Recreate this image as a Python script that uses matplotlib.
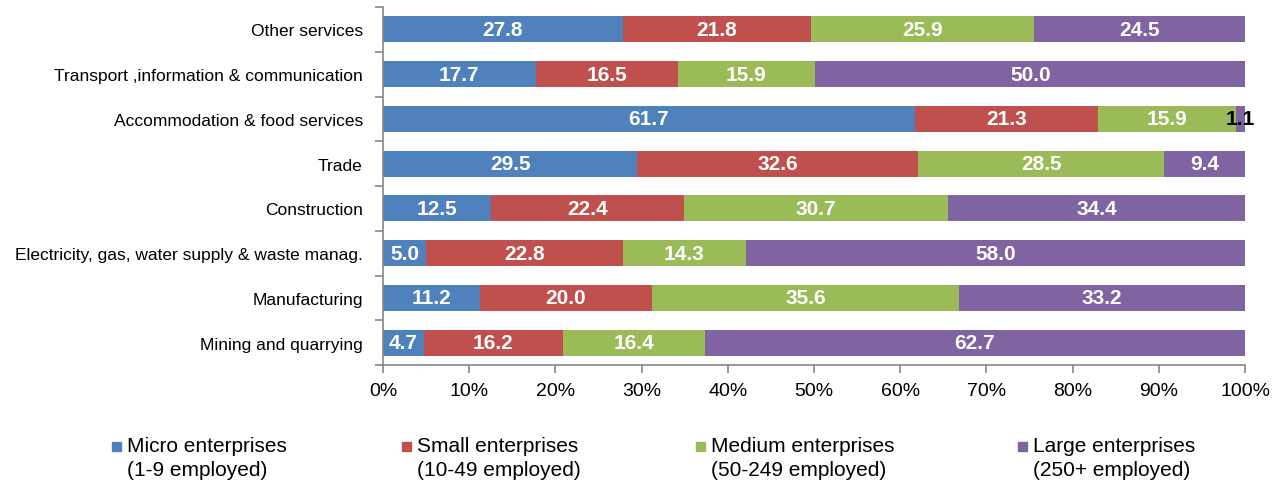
import matplotlib.pyplot as plt
from matplotlib.patches import Rectangle
import numpy as np

plt.rcParams["font.family"] = ["Liberation Sans", "DejaVu Sans"]

# data, bottom -> top
sectors = [
    "Mining and quarrying",
    "Manufacturing",
    "Electricity, gas, water supply & waste manag.",
    "Construction",
    "Trade",
    "Accommodation & food services",
    "Transport ,information & communication",
    "Other services",
]
micro = [4.7, 11.2, 5.0, 12.5, 29.5, 61.7, 17.7, 27.8]
small = [16.2, 20.0, 22.8, 22.4, 32.6, 21.3, 16.5, 21.8]
medium = [16.4, 35.6, 14.3, 30.7, 28.5, 15.9, 15.9, 25.9]
large = [62.7, 33.2, 58.0, 34.4, 9.4, 1.1, 50.0, 24.5]

series_names = [
    "Micro enterprises\n(1-9 employed)",
    "Small enterprises\n(10-49 employed)",
    "Medium enterprises\n(50-249 employed)",
    "Large enterprises\n(250+ employed)",
]
colors = ["#4F81BD", "#C0504D", "#9BBB59", "#8064A2"]

W, H = 1284, 485
fig = plt.figure(figsize=(W / 100, H / 100), dpi=100)
ax = fig.add_axes([383 / W, 1 - 366 / H, (1245 - 383) / W, 358 / H])

y = np.arange(len(sectors))
left = np.zeros(len(sectors))
for vals, col in zip([micro, small, medium, large], colors):
    vals = np.array(vals)
    ax.barh(y, vals, left=left, height=0.58, color=col, edgecolor="none")
    for yi, (l, v) in enumerate(zip(left, vals)):
        txt_col = "black" if v < 3 else "white"
        ax.text(l + v / 2, yi, f"{v:.1f}", ha="center", va="center",
                color=txt_col, fontsize=15, fontweight="bold")
    left += vals

ax.set_xlim(0, 100)
ax.set_ylim(-0.5, len(sectors) - 0.5)
ax.set_xticks(np.arange(0, 101, 10))
ax.set_xticklabels([f"{v}%" for v in range(0, 101, 10)], fontsize=14)
ax.set_yticks(y)
ax.set_yticklabels(sectors, fontsize=12.5)
ax.set_yticks(np.arange(-0.5, len(sectors), 1), minor=True)
ax.tick_params(axis="y", which="major", length=0, pad=14.5)
ax.tick_params(axis="y", which="minor", length=6, color="#868686", width=1.2)
ax.tick_params(axis="x", length=6, color="#868686", width=1.2, pad=6)
for s in ["top", "right"]:
    ax.spines[s].set_visible(False)
for s in ["left", "bottom"]:
    ax.spines[s].set_color("#868686")
    ax.spines[s].set_linewidth(1.2)

# legend drawn by hand: square next to first line of two-line label
leg_x = [112, 402, 696, 1018]
for xp, name, col in zip(leg_x, series_names, colors):
    fig.patches.append(Rectangle((xp / W, 1 - 452 / H), 9 / W, 9 / H,
                                 transform=fig.transFigure, color=col))
    for k, line in enumerate(name.split("\n")):
        fig.text((xp + 15) / W, 1 - (452 + 24.5 * k) / H, line, fontsize=15,
                 va="baseline", ha="left")

fig.savefig("out.png", dpi=100)
